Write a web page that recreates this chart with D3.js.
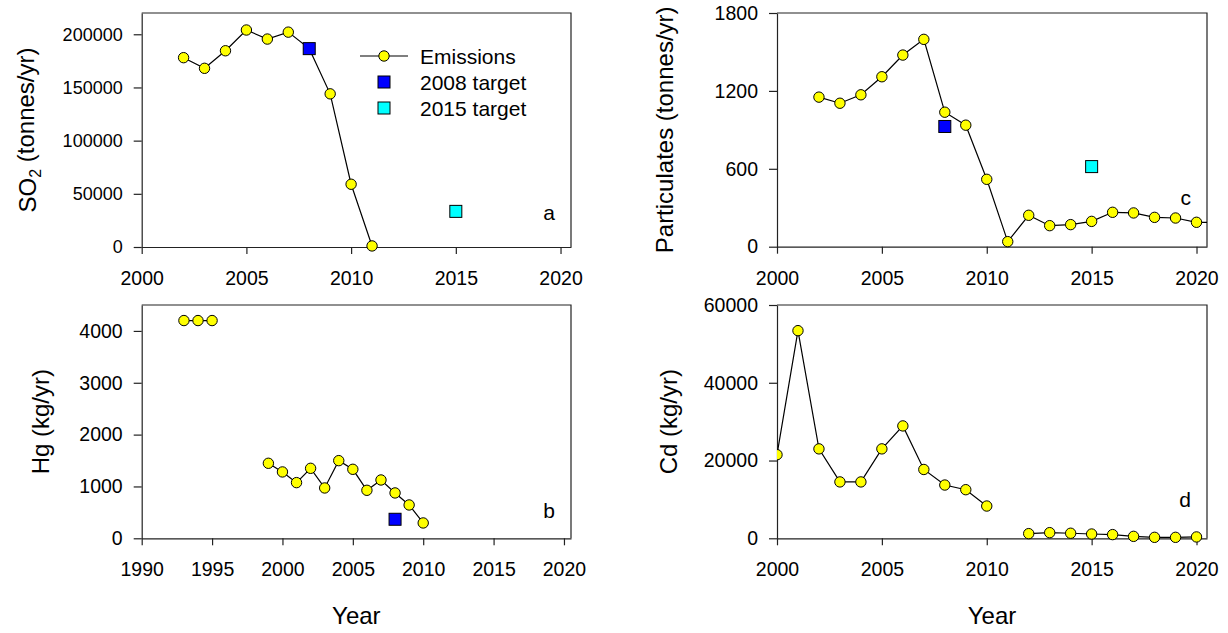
<!DOCTYPE html>
<html>
<head>
<meta charset="utf-8">
<script src="https://cdn.jsdelivr.net/npm/d3@7"></script>
<style>
  body { margin: 0; background: #fff; }
  svg text { font-family: "Liberation Sans", Arial, sans-serif; fill: #000; }
</style>
</head>
<body>
<svg id="fig" width="1228" height="633"></svg>
<script>
// panel a - SO2 (tonnes/yr)
const so2Years = [2002, 2003, 2004, 2005, 2006, 2007, 2008, 2009, 2010, 2011];
const so2Vals  = [178000, 168000, 184500, 204000, 195500, 202000, 186500, 144000, 59000, 1000];
const so2TargetYears = [2008, 2015];
const so2Targets     = [186500, 33500];

// panel b - Hg (kg/yr), gap 1996-1998
const hgYears = [1993, 1994, 1995, 1996, 1997, 1998, 1999, 2000, 2001, 2002, 2003, 2004, 2005, 2006, 2007, 2008, 2009, 2010];
const hgVals  = [4200, 4200, 4200, null, null, null, 1447, 1280, 1074, 1350, 971, 1498, 1331, 926, 1125, 875, 643, 296];
const hgTargetYears = [2008];
const hgTargets     = [367];

// panel c - Particulates (tonnes/yr)
const pmYears = [2002, 2003, 2004, 2005, 2006, 2007, 2008, 2009, 2010, 2011, 2012, 2013, 2014, 2015, 2016, 2017, 2018, 2019, 2020, 2021];
const pmVals  = [1152, 1105, 1170, 1309, 1476, 1597, 1036, 936, 519, 39, 242, 162, 170, 195, 265, 260, 226, 221, 188, 188];
const pmTargetYears = [2008, 2015];
const pmTargets     = [926, 617];

// panel d - Cd (kg/yr), no 2011 value
const cdYears = [2000, 2001, 2002, 2003, 2004, 2005, 2006, 2007, 2008, 2009, 2010, 2011, 2012, 2013, 2014, 2015, 2016, 2017, 2018, 2019, 2020];
const cdVals  = [21500, 53400, 23000, 14500, 14500, 23000, 28900, 17700, 13700, 12500, 8300, null, 1200, 1450, 1300, 1100, 950, 500, 250, 250, 350];

const legendLabels = ['Emissions', '2008 target', '2015 target'];
const targetColors = ['#0000ff', '#00ffff'];

const svg = d3.select('#fig');
const ink = '#222';
const dotR = 5.2;
const sq = 12;

function zipData(xs, vs) {
  return xs.map((x, i) => ({ x: x, v: vs[i] }));
}

function panel(cfg) {
  const g = svg.append('g');
  const x = d3.scaleLinear().domain(cfg.xDom).range([cfg.left, cfg.right]);
  const y = d3.scaleLinear().domain(cfg.yDom).range([cfg.bottom, cfg.top]);

  const clipId = 'clip-' + cfg.letter;
  svg.append('clipPath').attr('id', clipId).append('rect')
    .attr('x', cfg.left).attr('y', cfg.top - 8)
    .attr('width', cfg.right - cfg.left).attr('height', cfg.bottom - cfg.top + 16);

  // top and right frame
  g.append('path')
    .attr('d', `M${cfg.left},${cfg.top}H${cfg.right}V${cfg.bottom}`)
    .attr('fill', 'none').attr('stroke', ink).attr('stroke-width', 1.2);

  const xa = g.append('g')
    .attr('transform', `translate(0,${cfg.bottom})`)
    .call(d3.axisBottom(x).tickValues(cfg.xTicks).tickFormat(d3.format('d'))
      .tickSize(7).tickSizeOuter(0).tickPadding(17));
  const ya = g.append('g')
    .attr('transform', `translate(${cfg.left},0)`)
    .call(d3.axisLeft(y).tickValues(cfg.yTicks).tickFormat(d3.format('d'))
      .tickSize(8).tickSizeOuter(0).tickPadding(11));
  [xa, ya].forEach(a => {
    a.attr('font-family', null).attr('font-size', 19.5);
    a.selectAll('path, line').attr('stroke', ink).attr('stroke-width', 1.2);
  });
  if (cfg.yFont) ya.attr('font-size', cfg.yFont);

  const data = zipData(cfg.years, cfg.vals);
  const line = d3.line().defined(d => d.v != null).x(d => x(d.x)).y(d => y(d.v));
  const marks = g.append('g').attr('clip-path', `url(#${clipId})`);
  marks.append('path').datum(data)
    .attr('d', line).attr('fill', 'none').attr('stroke', '#000').attr('stroke-width', 1.2);
  marks.selectAll('circle').data(data.filter(d => d.v != null)).join('circle')
    .attr('cx', d => x(d.x)).attr('cy', d => y(d.v)).attr('r', dotR)
    .attr('fill', '#ffff00').attr('stroke', '#000').attr('stroke-width', 1);

  if (cfg.tYears) {
    const tData = zipData(cfg.tYears, cfg.tVals);
    marks.selectAll('rect.tgt').data(tData).join('rect').attr('class', 'tgt')
      .attr('x', d => x(d.x) - sq / 2).attr('y', d => y(d.v) - sq / 2)
      .attr('width', sq).attr('height', sq)
      .attr('fill', (d, i) => targetColors[i]).attr('stroke', '#000').attr('stroke-width', 1);
  }

  g.append('text')
    .attr('x', cfg.right - 16).attr('y', cfg.letterY)
    .attr('text-anchor', 'end').attr('font-size', 21)
    .text(cfg.letter);

  const yt = g.append('text')
    .attr('transform', `translate(${cfg.titleX},${(cfg.top + cfg.bottom) / 2}) rotate(-90)`)
    .attr('text-anchor', 'middle').attr('font-size', 24);
  if (cfg.sub) {
    yt.append('tspan').text(cfg.title[0]);
    yt.append('tspan').attr('dy', '0.3em').attr('font-size', 16).text(cfg.sub);
    yt.append('tspan').attr('dy', '-0.3em').text(cfg.title[1]);
  } else {
    yt.text(cfg.title);
  }

  if (cfg.xTitle) {
    g.append('text')
      .attr('x', (cfg.left + cfg.right) / 2).attr('y', 624)
      .attr('text-anchor', 'middle').attr('font-size', 24)
      .text(cfg.xTitle);
  }
  return { g, x, y };
}

const pa = panel({
  letter: 'a', left: 141.7, right: 571, top: 13, bottom: 247,
  xDom: [2000, 2020.5], yDom: [0, 220000],
  xTicks: [2000, 2005, 2010, 2015, 2020], yTicks: [0, 50000, 100000, 150000, 200000],
  years: so2Years, vals: so2Vals, tYears: so2TargetYears, tVals: so2Targets,
  letterY: 220, titleX: 36, title: ['SO', ' (tonnes/yr)'], sub: '2', yFont: 18
});

panel({
  letter: 'b', left: 141.7, right: 571, top: 305, bottom: 538.3,
  xDom: [1990, 2020.5], yDom: [0, 4500],
  xTicks: [1990, 1995, 2000, 2005, 2010, 2015, 2020], yTicks: [0, 1000, 2000, 3000, 4000],
  years: hgYears, vals: hgVals, tYears: hgTargetYears, tVals: hgTargets,
  letterY: 518, titleX: 49, title: 'Hg (kg/yr)', xTitle: 'Year'
});

panel({
  letter: 'c', left: 777, right: 1207, top: 13, bottom: 246.7,
  xDom: [2000, 2020.5], yDom: [0, 1800],
  xTicks: [2000, 2005, 2010, 2015, 2020], yTicks: [0, 600, 1200, 1800],
  years: pmYears, vals: pmVals, tYears: pmTargetYears, tVals: pmTargets,
  letterY: 205, titleX: 673, title: 'Particulates  (tonnes/yr)'
});

panel({
  letter: 'd', left: 777, right: 1207, top: 305, bottom: 538.3,
  xDom: [2000, 2020.5], yDom: [0, 60000],
  xTicks: [2000, 2005, 2010, 2015, 2020], yTicks: [0, 20000, 40000, 60000],
  years: cdYears, vals: cdVals,
  letterY: 507, titleX: 677, title: 'Cd (kg/yr)', xTitle: 'Year'
});

// legend inside panel a
const lg = pa.g.append('g').attr('transform', 'translate(384,56)');
lg.append('line').attr('x1', -24).attr('x2', 24).attr('stroke', '#000').attr('stroke-width', 1.2);
lg.append('circle').attr('r', dotR).attr('fill', '#ffff00').attr('stroke', '#000');
targetColors.forEach((c, i) => {
  lg.append('rect').attr('x', -sq / 2).attr('y', 26 * (i + 1) - sq / 2)
    .attr('width', sq).attr('height', sq).attr('fill', c).attr('stroke', '#000');
});
legendLabels.forEach((t, i) => {
  lg.append('text').attr('x', 36).attr('y', 26 * i + 8).attr('font-size', 21).text(t);
});
</script>
</body>
</html>
